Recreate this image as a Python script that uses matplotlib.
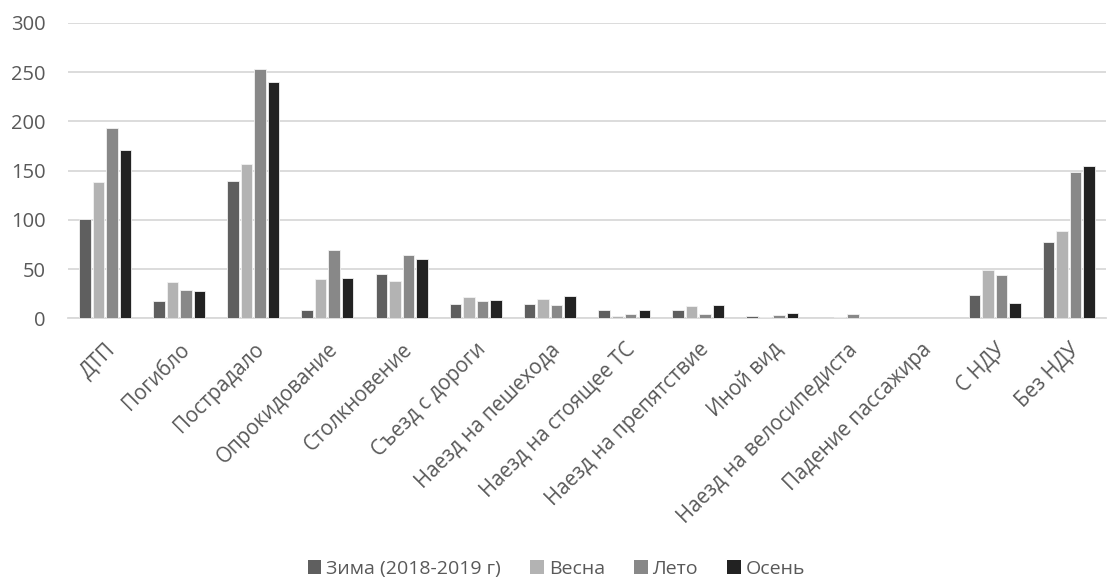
import matplotlib
matplotlib.use("Agg")
import matplotlib.pyplot as plt
import numpy as np
from matplotlib.patches import Patch

categories = ["ДТП", "Погибло", "Пострадало", "Опрокидование", "Столкновение",
              "Съезд с дороги", "Наезд на пешехода", "Наезд на стоящее ТС",
              "Наезд на препятствие", "Иной вид", "Наезд на велосипедиста",
              "Падение пассажира", "С НДУ", "Без НДУ"]

winter = [101, 18, 139, 8, 45, 15, 15, 8, 8, 2, 0, 0, 24, 77]
spring = [138, 37, 157, 40, 38, 22, 20, 2, 13, 1, 1, 0, 49, 89]
summer = [193, 29, 253, 69, 64, 18, 14, 4, 4, 3, 4, 0, 44, 149]
autumn = [171, 28, 240, 41, 60, 19, 23, 8, 14, 5, 0, 0, 16, 155]

series_names = ["Зима (2018-2019 г)", "Весна", "Лето", "Осень"]
series_colors = ["#5f5f5f", "#b3b3b3", "#888888", "#222222"]
y_ticks = [0, 50, 100, 150, 200, 250, 300]

plt.rcParams['font.family'] = ['Open Sans', 'DejaVu Sans']
text_color = "#595959"
grid_color = "#d9d9d9"

fig = plt.figure(figsize=(11.13, 5.83), dpi=100)
ax = fig.add_axes([0.0611, 0.454, 0.9325, 0.507])

x = np.arange(len(categories))
step = 0.182
width = 0.155
for i, (vals, col, name) in enumerate(zip([winter, spring, summer, autumn],
                                          series_colors, series_names)):
    ax.bar(x + (i - 1.5) * step, vals, width, color=col, label=name,
           edgecolor="#f2f2f2", linewidth=0.6, zorder=3)

ax.set_xlim(-0.5, len(categories) - 0.5)
ax.set_ylim(0, 300)
ax.set_yticks(y_ticks)
ax.yaxis.grid(True, color=grid_color, linewidth=1.3, zorder=0)
ax.set_axisbelow(True)
for s in ["top", "right", "left"]:
    ax.spines[s].set_visible(False)
ax.spines["bottom"].set_color(grid_color)
ax.spines["bottom"].set_linewidth(1.3)
ax.tick_params(axis="both", length=0, colors=text_color)
ax.tick_params(axis="y", pad=16, labelsize=14.5)
ax.set_xticks(x)
ax.set_xticklabels(categories, rotation=45, ha="right", rotation_mode="anchor",
                   fontsize=14.8, color=text_color)
ax.tick_params(axis="x", pad=15)

handles = [Patch(facecolor=c, edgecolor="none") for c in series_colors]
fig.legend(handles, series_names, loc="center", bbox_to_anchor=(0.5, 0.024),
           ncol=4, frameon=False, fontsize=14, labelcolor=text_color,
           handlelength=0.7, handleheight=0.7, handletextpad=0.25,
           columnspacing=1.5)

fig.savefig("out.png", dpi=100)
